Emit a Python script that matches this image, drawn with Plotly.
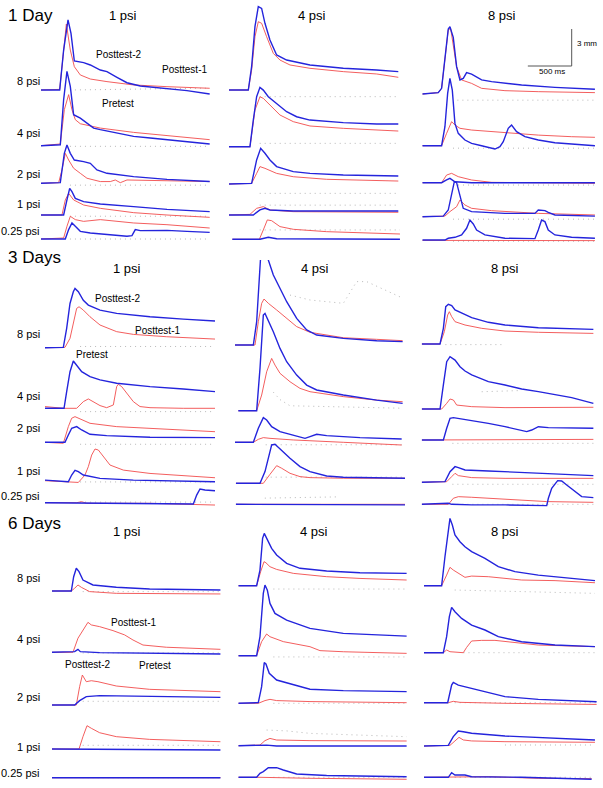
import plotly.graph_objects as go

# ===================== DATA (time in ms, amplitude in mm) =====================
# naming: <group>_<column>_<row>_<series>_{ms|mm}
# group d1/d3/d6 = 1/3/6 Days ; column c1/c4/c8 = 1/4/8 psi training ; row = test pressure
# series: post2 = Posttest-2 (blue), post1 = Posttest-1 (red), pre = Pretest (dotted)

# ---------- 1 Day, 1 psi ----------
d1_c1_r8_post2_ms = [0, 213, 258, 308, 342, 380, 486, 562, 676, 752, 866, 980, 1132, 1436, 1664, 1923]
d1_c1_r8_post2_mm = [0, 0, 3.24, 5.68, 4.59, 2.35, 2.22, 2.03, 1.62, 1.49, 1.03, 0.59, 0.32, 0.14, -0.05, -0.32]
d1_c1_r8_post1_ms = [0, 213, 251, 289, 334, 380, 448, 562, 752, 1056, 1436, 1816, 1923]
d1_c1_r8_post1_mm = [0, 0.05, 2.7, 5.35, 3.24, 1.89, 1.22, 0.89, 0.68, 0.41, 0.27, 0.14, 0.14]
d1_c1_r8_pre_ms = [330, 1923]
d1_c1_r8_pre_mm = [0.0, 0.15]
d1_c1_r4_post2_ms = [0, 220, 258, 296, 334, 372, 448, 524, 600, 676, 866, 1056, 1246, 1436, 1664, 1923]
d1_c1_r4_post2_mm = [0, 0.08, 3.73, 6.03, 4.81, 2.51, 2.24, 1.84, 1.43, 1.30, 1.03, 0.76, 0.62, 0.49, 0.35, 0.14]
d1_c1_r4_post1_ms = [0, 220, 266, 315, 353, 391, 448, 676, 1056, 1436, 1923]
d1_c1_r4_post1_mm = [0, 0.14, 2.92, 4.14, 2.92, 2.11, 1.78, 1.43, 1.08, 0.81, 0.49]
d1_c1_r4_pre_ms = [330, 1923]
d1_c1_r4_pre_mm = [-0.05, -0.05]
d1_c1_r2_post2_ms = [0, 220, 266, 296, 334, 380, 486, 562, 638, 752, 1056, 1436, 1923]
d1_c1_r2_post2_mm = [0, 0.05, 2.43, 3.11, 2.43, 1.89, 1.76, 1.62, 1.08, 0.81, 0.54, 0.32, 0.14]
d1_c1_r2_post1_ms = [0, 201, 239, 277, 315, 372, 448, 524, 676, 790, 847, 904, 980, 1246, 1923]
d1_c1_r2_post1_mm = [0, 0.05, 1.08, 2.43, 1.89, 1.22, 0.81, 0.41, 0.14, 0.14, 0.27, 0.05, 0.27, 0.22, 0.14]
d1_c1_r2_pre_ms = [330, 1923]
d1_c1_r2_pre_mm = [-0.15, -0.15]
d1_c1_r1_post2_ms = [0, 258, 296, 327, 353, 391, 486, 676, 1056, 1436, 1923]
d1_c1_r1_post2_mm = [0, 0, 1.22, 2.16, 1.89, 1.35, 1.08, 0.89, 0.68, 0.46, 0.27]
d1_c1_r1_post1_ms = [0, 239, 277, 315, 372, 486, 676, 1056, 1436, 1923]
d1_c1_r1_post1_mm = [0, 0, 1.22, 1.76, 1.22, 0.81, 0.54, 0.19, 0, -0.19]
d1_c1_r1_pre_ms = [330, 1923]
d1_c1_r1_pre_mm = [-0.1, -0.1]
d1_c1_r025_post2_ms = [0, 277, 315, 353, 391, 448, 562, 752, 980, 1037, 1075, 1132, 1436, 1664, 1923]
d1_c1_r025_post2_mm = [0, 0, 0.76, 1.3, 1.03, 0.62, 0.49, 0.35, 0.22, 0.27, 0.76, 0.68, 0.70, 0.62, 0.54]
d1_c1_r025_post1_ms = [0, 258, 296, 334, 391, 486, 676, 1056, 1436, 1923]
d1_c1_r025_post1_mm = [0, 0.08, 1.03, 1.84, 1.57, 1.43, 1.57, 1.30, 1.16, 0.89]
d1_c1_r025_pre_ms = [330, 1923]
d1_c1_r025_pre_mm = [0, 0]

# ---------- 1 Day, 4 psi ----------
d1_c4_r8_post2_ms = [0, 220, 258, 296, 334, 372, 410, 467, 543, 657, 923, 1303, 1683, 1930]
d1_c4_r8_post2_mm = [0, 0, 1.89, 5.14, 6.76, 6.62, 5.41, 4.05, 2.84, 2.43, 2.03, 1.76, 1.62, 1.49]
d1_c4_r8_post1_ms = [0, 220, 258, 296, 334, 372, 429, 505, 581, 695, 923, 1303, 1683, 1930]
d1_c4_r8_post1_mm = [0, 0, 1.62, 4.32, 5.54, 5.41, 4.32, 2.97, 2.43, 2.03, 1.76, 1.49, 1.30, 1.03]
d1_c4_r8_pre_ms = [350, 1930]
d1_c4_r8_pre_mm = [-0.54, -0.54]
d1_c4_r4_post2_ms = [0, 239, 277, 315, 353, 391, 448, 543, 657, 771, 923, 1303, 1683, 1930]
d1_c4_r4_post2_mm = [0, 0, 2.16, 4.05, 4.81, 4.59, 4.05, 3.51, 2.84, 2.43, 2.16, 1.95, 1.84, 1.84]
d1_c4_r4_post1_ms = [0, 239, 296, 353, 391, 467, 581, 733, 923, 1303, 1930]
d1_c4_r4_post1_mm = [0, 0, 2.97, 4.05, 3.92, 3.38, 2.57, 2.03, 1.68, 1.49, 1.27]
d1_c4_r4_pre_ms = [350, 1930]
d1_c4_r4_pre_mm = [0.27, 0.27]
d1_c4_r2_post2_ms = [0, 258, 315, 361, 410, 467, 543, 733, 923, 1303, 1930]
d1_c4_r2_post2_mm = [0, 0.05, 1.95, 2.89, 2.49, 1.95, 1.41, 1.0, 0.86, 0.73, 0.65]
d1_c4_r2_post1_ms = [0, 258, 315, 353, 410, 543, 733, 1113, 1930]
d1_c4_r2_post1_mm = [0, 0.05, 0.86, 1.41, 1.27, 0.86, 0.59, 0.38, 0.24]
d1_c4_r2_pre_ms = [350, 1930]
d1_c4_r2_pre_mm = [-0.76, -0.76]
d1_c4_r1_post2_ms = [0, 277, 353, 410, 467, 733, 1930]
d1_c4_r1_post2_mm = [0, 0, 0.41, 0.54, 0.41, 0.32, 0.32]
d1_c4_r1_post1_ms = [0, 239, 315, 391, 467, 733, 1930]
d1_c4_r1_post1_mm = [0, 0.05, 0.54, 0.68, 0.41, 0.27, 0.22]
d1_c4_r1_pre_ms = [350, 1930]
d1_c4_r1_pre_mm = [0.8, 0.8]
d1_c4_r025_post2_ms = [38, 353, 448, 543, 1949]
d1_c4_r025_post2_mm = [0, 0, 0.16, 0.05, 0]
d1_c4_r025_post1_ms = [38, 346, 391, 437, 486, 581, 733, 1113, 1949]
d1_c4_r025_post1_mm = [0, 0, 0.76, 1.57, 1.51, 1.03, 0.81, 0.62, 0.43]
d1_c4_r025_pre_ms = [350, 1949]
d1_c4_r025_pre_mm = [0.76, 0.76]

# ---------- 1 Day, 8 psi ----------
d1_c8_r8_post2_ms = [0, 182, 220, 258, 296, 315, 353, 391, 429, 467, 505, 562, 676, 790, 1132, 1512, 1968]
d1_c8_r8_post2_mm = [0, 0.11, 0.46, 2.76, 5.27, 5.46, 4.59, 2.22, 1.14, 1.27, 1.73, 1.62, 1.14, 1.0, 0.73, 0.54, 0.38]
d1_c8_r8_post1_ms = [0, 182, 220, 258, 296, 323, 353, 391, 448, 562, 676, 942, 1322, 1968]
d1_c8_r8_post1_mm = [0, 0.11, 0.46, 2.76, 5.19, 5.32, 3.84, 2.22, 1.14, 0.86, 0.46, 0.27, 0.19, 0.11]
d1_c8_r8_pre_ms = [400, 1968]
d1_c8_r8_pre_mm = [-0.5, -0.5]
d1_c8_r4_post2_ms = [0, 220, 258, 289, 315, 342, 372, 410, 486, 562, 676, 828, 885, 923, 980, 1018, 1075, 1170, 1322, 1512, 1702, 1968]
d1_c8_r4_post2_mm = [0, 0, 1.54, 4.24, 5.46, 4.51, 1.81, 1.0, 0.46, 0.19, 0, -0.27, -0.08, 0.32, 1.41, 1.68, 1.14, 0.73, 0.46, 0.24, 0.14, 0]
d1_c8_r4_post1_ms = [0, 220, 277, 334, 372, 429, 562, 942, 1322, 1702, 1968]
d1_c8_r4_post1_mm = [0, 0, 1.0, 1.95, 1.68, 1.41, 1.27, 1.05, 0.86, 0.73, 0.68]
d1_c8_r4_pre_ms = [350, 1968]
d1_c8_r4_pre_mm = [-0.2, -0.2]
d1_c8_r2_post2_ms = [0, 220, 277, 315, 372, 562, 1968]
d1_c8_r2_post2_mm = [0, 0, 0.22, 0.35, 0.08, 0, 0]
d1_c8_r2_post1_ms = [0, 220, 277, 334, 410, 562, 790, 1968]
d1_c8_r2_post1_mm = [0, 0, 0.62, 0.76, 0.49, 0.22, 0.03, -0.05]
d1_c8_r2_pre_ms = [350, 1968]
d1_c8_r2_pre_mm = [-0.19, -0.19]
d1_c8_r1_post2_ms = [0, 239, 296, 334, 365, 391, 429, 467, 562, 942, 1284, 1322, 1398, 1436, 1512, 1968]
d1_c8_r1_post2_mm = [0, 0.05, 0.54, 1.89, 2.84, 2.76, 1.62, 0.68, 0.41, 0.27, 0.27, 0.54, 0.49, 0.35, 0.14, 0.05]
d1_c8_r1_post1_ms = [0, 258, 315, 391, 429, 486, 562, 790, 1322, 1968]
d1_c8_r1_post1_mm = [0, 0.05, 0.41, 0.81, 1.35, 0.95, 0.68, 0.49, 0.27, 0.14]
d1_c8_r1_pre_ms = [350, 1968]
d1_c8_r1_pre_mm = [-0.2, -0.2]
d1_c8_r025_post2_ms = [0, 258, 296, 372, 448, 505, 543, 581, 619, 714, 942, 1284, 1322, 1360, 1398, 1436, 1512, 1702, 1968]
d1_c8_r025_post2_mm = [0, 0, 0.14, 0.22, 0.41, 0.95, 1.62, 1.30, 0.81, 0.41, 0.14, 0.11, 0.81, 1.62, 1.49, 0.81, 0.41, 0.22, 0.14]
d1_c8_r025_post1_ms = [0, 1968]
d1_c8_r025_post1_mm = [-0.03, -0.05]
d1_c8_r025_pre_ms = [350, 1968]
d1_c8_r025_pre_mm = [-0.1, -0.1]

# ---------- 3 Days, 1 psi ----------
d3_c1_r8_post2_ms = [0, 209, 247, 285, 323, 342, 380, 437, 494, 627, 817, 1197, 1577, 1938]
d3_c1_r8_post2_mm = [0, 0.03, 1.57, 3.59, 4.54, 4.81, 4.54, 3.84, 3.46, 3.05, 2.78, 2.51, 2.32, 2.16]
d3_c1_r8_post1_ms = [0, 228, 285, 323, 361, 388, 437, 513, 627, 817, 1007, 1387, 1938]
d3_c1_r8_post1_mm = [0, 0.03, 0.76, 2.11, 3.19, 3.32, 3.05, 2.51, 1.84, 1.30, 1.08, 0.89, 0.70]
d3_c1_r8_pre_ms = [400, 1938]
d3_c1_r8_pre_mm = [0.1, 0.1]
d3_c1_r4_post2_ms = [0, 217, 247, 285, 323, 361, 418, 513, 627, 817, 1197, 1577, 1938]
d3_c1_r4_post2_mm = [0, 0, 1.35, 2.97, 3.84, 3.51, 2.97, 2.57, 2.30, 2.03, 1.76, 1.57, 1.35]
d3_c1_r4_post1_ms = [0, 209, 361, 437, 494, 551, 627, 703, 779, 817, 836, 874, 931, 1007, 1083, 1197, 1577, 1938]
d3_c1_r4_post1_mm = [0.14, 0, 0, 0.54, 0.76, 0.54, 0.22, 0.05, 0.27, 1.76, 1.95, 1.76, 1.22, 0.54, 0.14, 0.05, 0, 0]
d3_c1_r4_pre_ms = [400, 1938]
d3_c1_r4_pre_mm = [-0.27, -0.27]
d3_c1_r2_post2_ms = [0, 228, 266, 304, 361, 418, 513, 703, 1197, 1938]
d3_c1_r2_post2_mm = [0, 0, 0.59, 1.14, 1.27, 1.0, 0.65, 0.54, 0.41, 0.38]
d3_c1_r2_post1_ms = [0, 209, 266, 304, 342, 399, 513, 817, 1387, 1938]
d3_c1_r2_post1_mm = [0, -0.08, 1.27, 1.95, 2.08, 1.89, 1.54, 1.27, 1.08, 0.86]
d3_c1_r2_pre_ms = [400, 1938]
d3_c1_r2_pre_mm = [-0.16, -0.16]
d3_c1_r1_post2_ms = [0, 266, 304, 342, 380, 437, 627, 1007, 1938]
d3_c1_r1_post2_mm = [0.05, -0.08, 0.46, 0.84, 0.73, 0.46, 0.19, 0.05, -0.08]
d3_c1_r1_post1_ms = [0, 380, 456, 494, 532, 570, 608, 665, 741, 893, 1197, 1938]
d3_c1_r1_post1_mm = [0, -0.14, 0.46, 1.14, 2.08, 2.57, 2.49, 1.95, 1.27, 0.86, 0.59, 0.24]
d3_c1_r1_pre_ms = [400, 1938]
d3_c1_r1_pre_mm = [-0.1, -0.1]
d3_c1_r025_post2_ms = [0, 1691, 1729, 1767, 1824, 1938]
d3_c1_r025_post2_mm = [0, -0.11, 0.62, 1.11, 1.03, 0.97]
d3_c1_r025_post1_ms = [0, 361, 418, 475, 1197, 1938]
d3_c1_r025_post1_mm = [0, 0, 0.08, -0.05, -0.05, -0.19]
d3_c1_r025_pre_ms = [400, 1938]
d3_c1_r025_pre_mm = [0.05, 0.05]

# ---------- 3 Days, 4 psi ----------
d3_c4_r8_post2_ms = [0, 209, 247, 290, 330, 380, 437, 513, 589, 703, 817, 931, 1235, 1615, 1911]
d3_c4_r8_post2_mm = [0, 0, 1.89, 6.9, 8.3, 6.89, 5.68, 4.59, 3.51, 2.16, 1.22, 0.81, 0.54, 0.35, 0.27]
d3_c4_r8_post1_ms = [0, 228, 266, 304, 331, 380, 475, 589, 703, 855, 1235, 1615, 1911]
d3_c4_r8_post1_mm = [0, 0, 1.89, 3.38, 3.73, 3.38, 2.84, 2.16, 1.49, 1.03, 0.59, 0.46, 0.35]
d3_c4_r8_pre_ms = [627, 855, 1235, 1330, 1387, 1501, 1919]
d3_c4_r8_pre_mm = [4.05, 3.65, 3.38, 4.5, 5.14, 5.14, 3.78]
d3_c4_r4_post2_ms = [38, 247, 285, 323, 342, 380, 437, 513, 589, 703, 817, 931, 1235, 1615, 1911]
d3_c4_r4_post2_mm = [0, 0, 3.43, 7.76, 7.89, 7.35, 6.41, 5.05, 3.97, 2.89, 2.08, 1.68, 1.27, 0.86, 0.59]
d3_c4_r4_post1_ms = [38, 247, 304, 361, 418, 456, 513, 627, 741, 855, 1235, 1615, 1911]
d3_c4_r4_post1_mm = [0, 0, 1.27, 3.16, 4.24, 3.70, 3.03, 2.35, 1.81, 1.54, 1.14, 0.86, 0.73]
d3_c4_r4_pre_ms = [437, 513, 627, 1911]
d3_c4_r4_pre_mm = [1.5, 0.9, 0.4, 0.2]
d3_c4_r2_post2_ms = [0, 209, 266, 323, 361, 418, 513, 665, 798, 855, 931, 1045, 1425, 1900]
d3_c4_r2_post2_mm = [0, 0, 1.14, 2.0, 1.81, 1.27, 0.86, 0.59, 0.32, 0.46, 0.65, 0.54, 0.38, 0.27]
d3_c4_r2_post1_ms = [0, 209, 266, 323, 399, 665, 1235, 1900]
d3_c4_r2_post1_mm = [0, 0, 0.24, 0.38, 0.32, 0.19, 0, -0.22]
d3_c4_r2_pre_ms = [350, 1900]
d3_c4_r2_pre_mm = [-0.2, -0.2]
d3_c4_r1_post2_ms = [11, 285, 342, 418, 456, 513, 627, 741, 855, 1045, 1235, 1938]
d3_c4_r1_post2_mm = [0, 0, 0.95, 3.11, 3.16, 2.78, 2.03, 1.35, 0.95, 0.59, 0.49, 0.41]
d3_c4_r1_post1_ms = [11, 323, 399, 475, 532, 627, 741, 855, 1235, 1938]
d3_c4_r1_post1_mm = [0, 0, 0.73, 1.43, 1.22, 0.81, 0.54, 0.46, 0.41, 0.41]
d3_c4_r1_pre_ms = [350, 1938]
d3_c4_r1_pre_mm = [0.5, 0.5]
d3_c4_r025_post2_ms = [11, 1938]
d3_c4_r025_post2_mm = [0, -0.05]
d3_c4_r025_post1_ms = [11, 1938]
d3_c4_r025_post1_mm = [0, 0]
d3_c4_r025_pre_ms = [340, 1160]
d3_c4_r025_pre_mm = [0.5, 0.6]

# ---------- 3 Days, 8 psi ----------
d3_c8_r8_post2_ms = [0, 209, 247, 274, 304, 342, 380, 456, 570, 760, 950, 1330, 1710, 1957]
d3_c8_r8_post2_mm = [0, 0, 1.27, 3.03, 3.22, 3.11, 2.76, 2.49, 2.14, 1.76, 1.54, 1.32, 1.22, 1.19]
d3_c8_r8_post1_ms = [0, 209, 258, 296, 315, 342, 380, 494, 684, 950, 1330, 1957]
d3_c8_r8_post1_mm = [0, 0, 1.0, 2.35, 2.62, 2.22, 1.81, 1.54, 1.27, 1.05, 0.95, 0.86]
d3_c8_r8_pre_ms = [270, 950]
d3_c8_r8_pre_mm = [-0.05, -0.05]
d3_c8_r4_post2_ms = [0, 209, 247, 285, 323, 380, 437, 494, 570, 760, 950, 1140, 1330, 1520, 1710, 1957]
d3_c8_r4_post2_mm = [0, 0, 1.95, 3.84, 4.24, 3.97, 3.43, 3.08, 2.76, 2.22, 1.95, 1.62, 1.41, 1.19, 0.92, 0.46]
d3_c8_r4_post1_ms = [0, 228, 285, 323, 361, 399, 570, 950, 1957]
d3_c8_r4_post1_mm = [0, 0, 0.46, 0.81, 0.73, 0.32, 0.19, 0.11, 0.14]
d3_c8_r4_pre_ms = [684, 1140]
d3_c8_r4_pre_mm = [1.4, 1.5]
d3_c8_r2_post2_ms = [0, 247, 285, 323, 361, 456, 570, 760, 950, 1140, 1197, 1254, 1330, 1444, 1710, 1957]
d3_c8_r2_post2_mm = [0, 0, 0.95, 1.76, 1.81, 1.70, 1.62, 1.35, 1.08, 0.73, 0.68, 0.81, 1.08, 1.0, 0.95, 0.95]
d3_c8_r2_post1_ms = [0, 1957]
d3_c8_r2_post1_mm = [0, 0.05]
d3_c8_r2_pre_ms = [350, 1957]
d3_c8_r2_pre_mm = [-0.27, -0.27]
d3_c8_r1_post2_ms = [0, 266, 323, 380, 418, 494, 760, 1140, 1520, 1957]
d3_c8_r1_post2_mm = [0, 0.05, 0.86, 1.27, 1.19, 1.0, 0.92, 0.78, 0.65, 0.54]
d3_c8_r1_post1_ms = [0, 285, 342, 380, 418, 570, 950, 1957]
d3_c8_r1_post1_mm = [0, 0.05, 0.46, 0.73, 0.54, 0.38, 0.32, 0.32]
d3_c8_r1_pre_ms = [350, 1957]
d3_c8_r1_pre_mm = [-0.16, -0.16]
d3_c8_r025_post2_ms = [0, 304, 342, 570, 950, 1425, 1444, 1482, 1550, 1596, 1653, 1748, 1824, 1957]
d3_c8_r025_post2_mm = [0, 0.08, 0, -0.05, -0.05, -0.11, 0.49, 1.30, 1.92, 1.89, 1.57, 1.03, 0.62, 0.54]
d3_c8_r025_post1_ms = [0, 304, 361, 418, 570, 950, 1425, 1957]
d3_c8_r025_post1_mm = [0, 0, 0.49, 0.62, 0.57, 0.43, 0.22, 0.16]
d3_c8_r025_pre_ms = [350, 1957]
d3_c8_r025_pre_mm = [0, 0]

# ---------- 6 Days, 1 psi ----------
d6_c1_r8_post2_ms = [0, 220, 247, 277, 308, 353, 467, 733, 1113, 1920]
d6_c1_r8_post2_mm = [0, 0, 1.16, 1.84, 1.57, 0.89, 0.49, 0.30, 0.16, 0.08]
d6_c1_r8_post1_ms = [0, 220, 258, 296, 334, 429, 733, 1303, 1920]
d6_c1_r8_post1_mm = [0, 0, 0.22, 0.49, 0.30, -0.05, -0.19, -0.24, -0.24]
d6_c1_r8_pre_ms = [350, 1920]
d6_c1_r8_pre_mm = [-0.05, -0.05]
d6_c1_r4_post2_ms = [0, 258, 296, 323, 543, 1920]
d6_c1_r4_post2_mm = [0, 0.05, 0.24, 0.05, -0.03, -0.14]
d6_c1_r4_post1_ms = [0, 239, 296, 372, 410, 448, 543, 695, 828, 923, 1037, 1303, 1920]
d6_c1_r4_post1_mm = [0, 0, 1.14, 2.08, 2.43, 2.22, 2.08, 1.76, 1.41, 1.0, 0.59, 0.41, 0.24]
d6_c1_r4_pre_ms = [350, 1920]
d6_c1_r4_pre_mm = [-0.05, -0.05]
d6_c1_r2_post2_ms = [0, 258, 315, 391, 543, 923, 1920]
d6_c1_r2_post2_mm = [0, 0, 0.35, 0.68, 0.76, 0.73, 0.62]
d6_c1_r2_post1_ms = [0, 277, 315, 346, 391, 448, 524, 733, 1113, 1920]
d6_c1_r2_post1_mm = [0, 0, 1.49, 2.43, 1.89, 1.97, 1.89, 1.54, 1.27, 1.08]
d6_c1_r2_pre_ms = [350, 1920]
d6_c1_r2_pre_mm = [0.3, 0.3]
d6_c1_r1_post2_ms = [0, 543, 1920]
d6_c1_r1_post2_mm = [0, -0.03, -0.08]
d6_c1_r1_post1_ms = [0, 308, 353, 399, 448, 543, 733, 1113, 1920]
d6_c1_r1_post1_mm = [0, 0, 1.0, 1.89, 1.68, 1.32, 1.0, 0.78, 0.59]
d6_c1_r1_pre_ms = [350, 1920]
d6_c1_r1_pre_mm = [0.3, 0.3]
d6_c1_r025_post2_ms = [0, 1920]
d6_c1_r025_post2_mm = [0, 0]
d6_c1_r025_post1_ms = [0, 1410, 1450, 1920]
d6_c1_r025_post1_mm = [0, 0.05, 0, 0]
d6_c1_r025_pre_ms = [350, 1920]
d6_c1_r025_pre_mm = [0, 0]

# ---------- 6 Days, 4 psi ----------
d6_c4_r8_post2_ms = [0, 209, 247, 277, 296, 323, 380, 437, 551, 703, 1007, 1387, 1919]
d6_c4_r8_post2_mm = [0, 0, 1.27, 3.84, 4.24, 3.84, 3.03, 2.49, 1.81, 1.41, 1.19, 1.05, 1.0]
d6_c4_r8_post1_ms = [0, 209, 255, 293, 315, 361, 437, 627, 1007, 1387, 1919]
d6_c4_r8_post1_mm = [0, 0, 1.14, 1.95, 1.86, 1.54, 1.32, 1.0, 0.73, 0.59, 0.46]
d6_c4_r8_pre_ms = [400, 1919]
d6_c4_r8_pre_mm = [-0.27, -0.27]
d6_c4_r4_post2_ms = [0, 209, 247, 285, 304, 331, 361, 418, 551, 817, 1197, 1577, 1919]
d6_c4_r4_post2_mm = [0, 0, 1.54, 5.05, 5.73, 5.32, 4.24, 3.43, 2.89, 2.22, 1.81, 1.68, 1.59]
d6_c4_r4_post1_ms = [0, 209, 266, 323, 361, 513, 817, 931, 1197, 1919]
d6_c4_r4_post1_mm = [0, 0, 1.14, 1.76, 1.54, 1.14, 0.73, 0.41, 0.32, 0.19]
d6_c4_r4_pre_ms = [400, 1919]
d6_c4_r4_pre_mm = [-0.1, -0.1]
d6_c4_r2_post2_ms = [0, 228, 266, 296, 315, 353, 437, 627, 817, 1197, 1919]
d6_c4_r2_post2_mm = [0, 0.05, 1.35, 3.30, 3.19, 2.43, 1.89, 1.49, 1.14, 1.03, 0.95]
d6_c4_r2_post1_ms = [0, 228, 304, 361, 437, 817, 1919]
d6_c4_r2_post1_mm = [0, 0, 0.22, 0.32, 0.22, 0.14, 0.05]
d6_c4_r2_pre_ms = [400, 1919]
d6_c4_r2_pre_mm = [0, 0]
d6_c4_r1_post2_ms = [0, 247, 323, 437, 1919]
d6_c4_r1_post2_mm = [0, 0.05, 0.05, -0.03, -0.03]
d6_c4_r1_post1_ms = [0, 247, 304, 361, 437, 817, 1919]
d6_c4_r1_post1_mm = [0, 0.05, 0.41, 0.59, 0.46, 0.41, 0.38]
d6_c4_r1_pre_ms = [323, 551, 817, 1919]
d6_c4_r1_pre_mm = [1.27, 1.2, 1.0, 0.73]
d6_c4_r025_post2_ms = [0, 209, 247, 285, 342, 437, 513, 665, 1007, 1919]
d6_c4_r025_post2_mm = [0, 0, 0.32, 0.46, 0.78, 0.78, 0.59, 0.27, 0.14, 0.05]
d6_c4_r025_post1_ms = [0, 247, 817, 1919]
d6_c4_r025_post1_mm = [0, 0, -0.08, -0.16]
d6_c4_r025_pre_ms = [400, 1919]
d6_c4_r025_pre_mm = [0, 0]

# ---------- 6 Days, 8 psi ----------
d6_c8_r8_post2_ms = [0, 201, 239, 277, 296, 323, 353, 410, 467, 543, 695, 847, 1037, 1303, 1683, 1949]
d6_c8_r8_post2_mm = [0, 0, 2.35, 4.78, 5.46, 4.92, 4.11, 3.57, 3.16, 2.76, 2.22, 1.54, 1.14, 0.86, 0.59, 0.41]
d6_c8_r8_post1_ms = [0, 201, 258, 296, 334, 391, 467, 543, 733, 1113, 1494, 1949]
d6_c8_r8_post1_mm = [0, 0, 0.86, 1.49, 1.27, 1.0, 0.68, 0.78, 0.73, 0.46, 0.41, 0.24]
d6_c8_r8_pre_ms = [350, 1949]
d6_c8_r8_pre_mm = [-0.35, -0.62]
d6_c8_r4_post2_ms = [0, 220, 258, 289, 315, 353, 429, 543, 695, 847, 1113, 1494, 1949]
d6_c8_r4_post2_mm = [0, 0, 1.30, 2.92, 3.68, 3.32, 2.78, 2.24, 1.84, 1.30, 0.89, 0.62, 0.49]
d6_c8_r4_post1_ms = [0, 220, 258, 296, 448, 486, 543, 657, 809, 1037, 1303, 1949]
d6_c8_r4_post1_mm = [0, 0, 0.22, 0.08, 0, 0.43, 0.95, 1.0, 1.0, 0.81, 0.62, 0.49]
d6_c8_r4_pre_ms = [450, 1949]
d6_c8_r4_pre_mm = [0, 0]
d6_c8_r2_post2_ms = [0, 270, 315, 334, 391, 543, 733, 923, 1303, 1968]
d6_c8_r2_post2_mm = [0, 0, 1.43, 1.65, 1.43, 1.16, 0.81, 0.49, 0.27, 0.08]
d6_c8_r2_post1_ms = [0, 277, 334, 410, 923, 1968]
d6_c8_r2_post1_mm = [0, 0, 0.11, 0.03, -0.05, -0.14]
d6_c8_r2_pre_ms = [350, 1968]
d6_c8_r2_pre_mm = [0, 0]
d6_c8_r1_post2_ms = [0, 277, 334, 391, 448, 543, 923, 1494, 1836, 1949]
d6_c8_r1_post2_mm = [0, 0.05, 0.76, 1.22, 1.16, 1.03, 0.81, 0.62, 0.49, 0.49]
d6_c8_r1_post1_ms = [0, 296, 353, 399, 448, 543, 923, 1949]
d6_c8_r1_post1_mm = [0, 0.05, 0.41, 0.70, 0.49, 0.41, 0.35, 0.30]
d6_c8_r1_pre_ms = [923, 1949]
d6_c8_r1_pre_mm = [0.08, 0.08]
d6_c8_r025_post2_ms = [0, 277, 315, 353, 467, 543, 1113, 1911]
d6_c8_r025_post2_mm = [0, 0, 0.38, 0.19, 0.19, 0.05, 0, -0.16]
d6_c8_r025_post1_ms = [0, 353, 733, 1303, 1911]
d6_c8_r025_post1_mm = [0, 0.05, 0.05, -0.08, -0.11]
d6_c8_r025_pre_ms = [350, 1911]
d6_c8_r025_pre_mm = [0, 0]

# labels
group_labels = ["1 Day", "3 Days", "6 Days"]
column_labels = ["1 psi", "4 psi", "8 psi"]
row_labels = ["8 psi", "4 psi", "2 psi", "1 psi", "0.25 psi"]
series_names = {"post2": "Posttest-2", "post1": "Posttest-1", "pre": "Pretest"}
scale_ms = 500
scale_mm = 3

# ===================== LAYOUT (pixel geometry) =====================
W, H = 603, 788
PX_PER_MS = 1 / 11.4
PX_PER_MM = 12.33
T_SPAN = 1990
GROUPS = ["d1", "d3", "d6"]
COLS = ["c1", "c4", "c8"]
ROWS = ["r8", "r4", "r2", "r1", "r025"]
SERIES = ["pre", "post1", "post2"]

X0 = {("d1", "c1"): 41, ("d1", "c4"): 229, ("d1", "c8"): 422.3,
      ("d3", "c1"): 45, ("d3", "c4"): 235, ("d3", "c8"): 421.7,
      ("d6", "c1"): 52, ("d6", "c4"): 238.3, ("d6", "c8"): 424}
BASE = {("d1", "c1"): [90, 145.7, 183.3, 215, 239],
        ("d1", "c4"): [90, 146.7, 184, 215, 239.3],
        ("d1", "c8"): [94, 145.7, 182.7, 216.7, 240],
        ("d3", "c1"): [347.7, 408.3, 442.3, 480.7, 502.7],
        ("d3", "c4"): [345, 410.7, 442.3, 483.3, 504.3],
        ("d3", "c8"): [344, 409, 440, 482.3, 504.3],
        ("d6", "c1"): [591, 652.3, 705, 749, 777.7],
        ("d6", "c4"): [585.7, 655.7, 703.3, 745.7, 777.3],
        ("d6", "c8"): [585.7, 652.7, 702.7, 746, 777.3]}
GTOP = {"d1": 0, "d3": 260, "d6": 512}

STYLE = {
    "post2": dict(color="#2424dc", width=1.4),
    "post1": dict(color="#f24c4c", width=0.9),
    "pre": dict(color="#b8b8b8", width=1, dash="1px,4px"),
}
FONT = "Liberation Sans, Arial, sans-serif"

fig = go.Figure()
lay = {}
k = 0
axes_of = {}
for g in GROUPS:
    for c in COLS:
        for ri, r in enumerate(ROWS):
            k += 1
            sx = "" if k == 1 else str(k)
            xa, ya = "x" + sx, "y" + sx
            x0 = X0[(g, c)]
            x1 = min(W, x0 + T_SPAN * PX_PER_MS)
            base = BASE[(g, c)][ri]
            bot = min(H, base + 1.6 * PX_PER_MM)
            top = max(GTOP[g], base - 9 * PX_PER_MM)
            lay["xaxis" + sx] = dict(domain=[x0 / W, x1 / W], range=[0, (x1 - x0) / PX_PER_MS],
                                     visible=False, anchor=ya, fixedrange=True)
            lay["yaxis" + sx] = dict(domain=[1 - bot / H, 1 - top / H],
                                     range=[-(bot - base) / PX_PER_MM, (base - top) / PX_PER_MM],
                                     visible=False, anchor=xa, fixedrange=True)
            axes_of[(g, c, r)] = (xa, ya)
            for s in SERIES:
                ms = globals()[f"{g}_{c}_{r}_{s}_ms"]
                mm = globals()[f"{g}_{c}_{r}_{s}_mm"]
                fig.add_trace(go.Scatter(x=ms, y=mm, mode="lines", line=STYLE[s],
                                         xaxis=xa, yaxis=ya, name=series_names[s],
                                         hoverinfo="skip", showlegend=False))

# scale bar drawn in the top-right panel's data units
SB_T_END, SB_V0 = 1703, 2.27
xa, ya = axes_of[("d1", "c8", "r8")]
fig.add_trace(go.Scatter(x=[SB_T_END - scale_ms, SB_T_END, SB_T_END],
                         y=[SB_V0, SB_V0, SB_V0 + scale_mm], mode="lines",
                         line=dict(color="#555555", width=1), xaxis=xa, yaxis=ya,
                         hoverinfo="skip", showlegend=False))

ann = []
def txt(text, x, y, size, xanchor="center"):
    ann.append(dict(text=text, x=x / W, y=1 - y / H, xref="paper", yref="paper",
                    xanchor=xanchor, yanchor="middle", showarrow=False,
                    font=dict(family=FONT, size=size, color="#000000")))

GROUP_Y = [16, 258, 523]
COL_TITLE_X = [[123, 312, 502], [127, 315, 505], [127, 314, 505]]
COL_TITLE_Y = [16, 268, 531]
ROW_Y = [[81, 133, 174, 204, 231], [334, 396, 428, 471, 496], [578, 639, 697, 747, 773]]
for gi in range(3):
    txt(group_labels[gi], 6, GROUP_Y[gi], 17, "left")
    for ci in range(3):
        txt(column_labels[ci], COL_TITLE_X[gi][ci], COL_TITLE_Y[gi], 13)
    for ri in range(5):
        txt(row_labels[ri], 42, ROW_Y[gi][ri], 11, "right")

SERIES_LABEL_POS = [
    {"post2": (118, 55), "post1": (184, 70), "pre": (118, 103)},
    {"post2": (117, 298), "post1": (157, 330), "pre": (92, 354)},
    {"post2": (87, 664), "post1": (133, 622), "pre": (155, 665)},
]
for gi in range(3):
    for s, (x, y) in SERIES_LABEL_POS[gi].items():
        txt(series_names[s], x, y, 10)

txt(f"{scale_mm} mm", 587, 43, 8)
txt(f"{scale_ms} ms", 552, 71, 8)

fig.update_layout(
    width=W, height=H, margin=dict(l=0, r=0, t=0, b=0),
    paper_bgcolor="white", plot_bgcolor="rgba(0,0,0,0)",
    showlegend=False, annotations=ann, **lay,
)
fig.write_html("out.html", post_script="document.body.style.margin='0';",
               config={"displayModeBar": False})
